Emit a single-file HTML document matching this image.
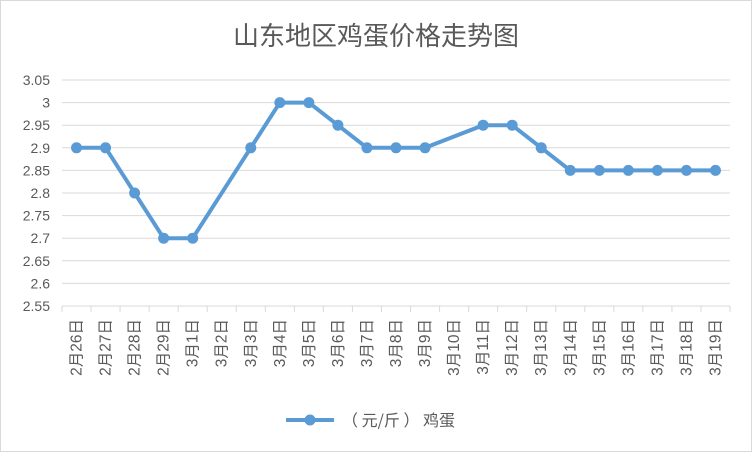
<!DOCTYPE html>
<html><head><meta charset="utf-8"><style>
body{margin:0;background:#fff;}
svg{font-family:"Liberation Sans","Noto Sans CJK SC",sans-serif;}
</style></head><body>
<svg id="c" width="752" height="452">
<rect x="0.5" y="0.5" width="751" height="451" fill="#fff" stroke="#d9d9d9"/>
<text x="376" y="45" text-anchor="middle" font-size="26" fill="#595959" font-family="'Noto Sans CJK SC',sans-serif">山东地区鸡蛋价格走势图</text>
<g id="grid"></g><g id="xt"></g><g id="yl"></g><g id="series"></g>
<g>
<line x1="286" y1="420" x2="334" y2="420" stroke="#5b9bd5" stroke-width="4"/>
<circle cx="310" cy="420" r="5.5" fill="#5b9bd5"/>
<text x="342" y="426" font-size="16" fill="#595959" font-family="'Noto Sans CJK SC',sans-serif">（ 元/斤 ） 鸡蛋</text>
</g>
</svg>
<script>
const categories=["2月26日","2月27日","2月28日","2月29日","3月1日","3月2日","3月3日","3月4日","3月5日","3月6日","3月7日","3月8日","3月9日","3月10日","3月11日","3月12日","3月13日","3月14日","3月15日","3月16日","3月17日","3月18日","3月19日"];
const values=[2.9,2.9,2.8,2.7,2.7,null,2.9,3,3,2.95,2.9,2.9,2.9,null,2.95,2.95,2.9,2.85,2.85,2.85,2.85,2.85,2.85];
const yTicks=[2.55,2.6,2.65,2.7,2.75,2.8,2.85,2.9,2.95,3,3.05];
const NS="http://www.w3.org/2000/svg";
const L=62,R=730,T=80,B=306,ymin=2.55,ymax=3.05;
const bw=(R-L)/categories.length;
const x=i=>L+bw*(i+0.5);
const y=v=>B-(v-ymin)/(ymax-ymin)*(B-T);
function mk(t,a,p){const e=document.createElementNS(NS,t);for(const k in a)e.setAttribute(k,a[k]);p.appendChild(e);return e;}
const g=document.getElementById('grid'),yl=document.getElementById('yl'),xt=document.getElementById('xt'),s=document.getElementById('series');
yTicks.forEach(v=>{
 const ln=mk('line',{x1:L,x2:R,y1:y(v),y2:y(v),stroke:'#d9d9d9','stroke-width':1},g);
 
 
 const t=mk('text',{x:50,y:y(v)+5,'text-anchor':'end','font-size':14,fill:'#595959'},yl);
 t.textContent=String(v);
 
 
});
for(let i=0;i<=categories.length;i++){
 const tk=mk('line',{x1:L+bw*i,x2:L+bw*i,y1:B,y2:B+6,stroke:'#d9d9d9'},g);
 
 
}
categories.forEach((c,i)=>{
 const t=mk('text',{x:0,y:0,'font-size':15.5,fill:'#595959','text-anchor':'end',transform:`translate(${x(i)+5},${319}) rotate(-90)`},xt);
 t.textContent=c;
 
 
});
const pts=values.map((v,i)=>v==null?null:[x(i),y(v)]).filter(p=>p);
const pl=mk('polyline',{points:pts.map(p=>p.join(',')).join(' '),fill:'none',stroke:'#5b9bd5','stroke-width':4,'stroke-linejoin':'round'},s);


values.forEach((v,i)=>{if(v==null)return;
 const c=mk('circle',{cx:x(i),cy:y(v),r:5.5,fill:'#5b9bd5'},s);
 
 
});
</script>
</body></html>
